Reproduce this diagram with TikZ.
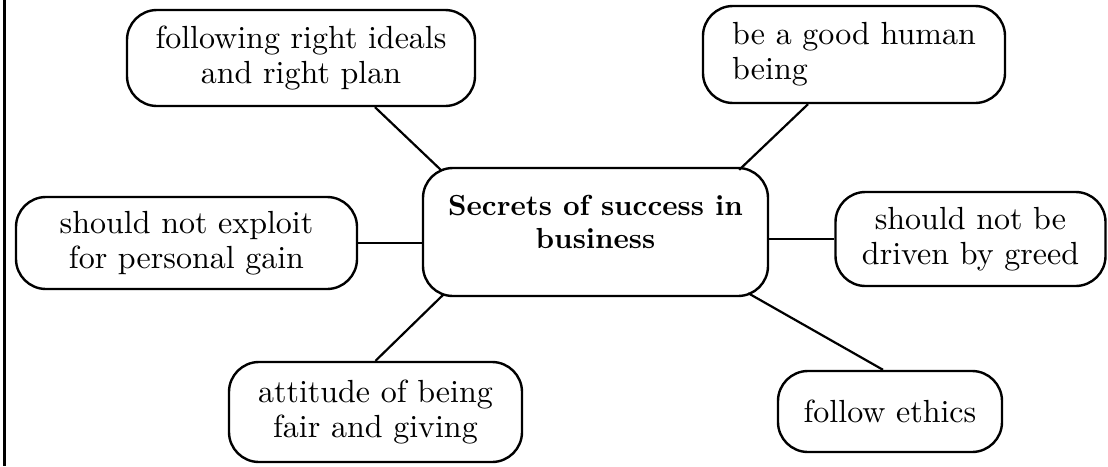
\documentclass[tikz,border=0pt]{standalone}
\font\boxfont="[lmroman10-regular.otf]" at 32pt
\font\titlefont="[lmroman10-bold.otf]" at 29pt
\begin{document}
\begin{tikzpicture}[x=1pt,y=-1pt,
  box/.style={draw=black,line width=2.4pt,rounded corners=30pt,fill=white,inner sep=0pt,align=center,font=\fontsize{32}{35}\selectfont\boxfont},
  conn/.style={draw=black,line width=2.2pt}]
\useasboundingbox (0,0) rectangle (1108,466);
% left frame line
\draw[line width=2.5pt] (4.5,0) -- (4.5,466);
% nodes
\node[box,minimum width=345pt,minimum height=128pt] (c) at (595.5,232) {};
\node[font=\fontsize{29}{33}\selectfont\titlefont,align=center,inner sep=0pt] (ct) at (595.5,222) {Secrets of success in\\business};
\node[box,minimum width=348pt,minimum height=96pt] (b1) at (301,58) {following right ideals\\and right plan};
\node[box,minimum width=302pt,minimum height=97pt,align=left] (b2) at (854,54.5) {be a good human\\being};
\node[box,minimum width=341pt,minimum height=92pt] (b4) at (186.5,243) {should not exploit\\for personal gain};
\node[box,minimum width=270pt,minimum height=94pt] (b5) at (970.5,239) {should not be\\driven by greed};
\node[box,minimum width=293pt,minimum height=100pt] (b6) at (375.5,412) {attitude of being\\fair and giving};
\node[box,minimum width=224pt,minimum height=81pt] (b7) at (890,411.5) {follow ethics};
% connectors
\draw[conn] ([xshift=74pt]b1.south) -- ([shift={(20,4)}]c.north west);
\draw[conn] ([xshift=-46pt]b2.south) -- ([shift={(-30,3)}]c.north east);
\draw[conn] (b4.east) -- (b4.east -| c.west);
\draw[conn] (b5.west) -- (b5.west -| c.east);
\draw[conn] (b6.north) -- ([shift={(22,-3)}]c.south west);
\draw[conn] ([xshift=-7pt]b7.north) -- ([shift={(-21,-4)}]c.south east);
\end{tikzpicture}
\end{document}
